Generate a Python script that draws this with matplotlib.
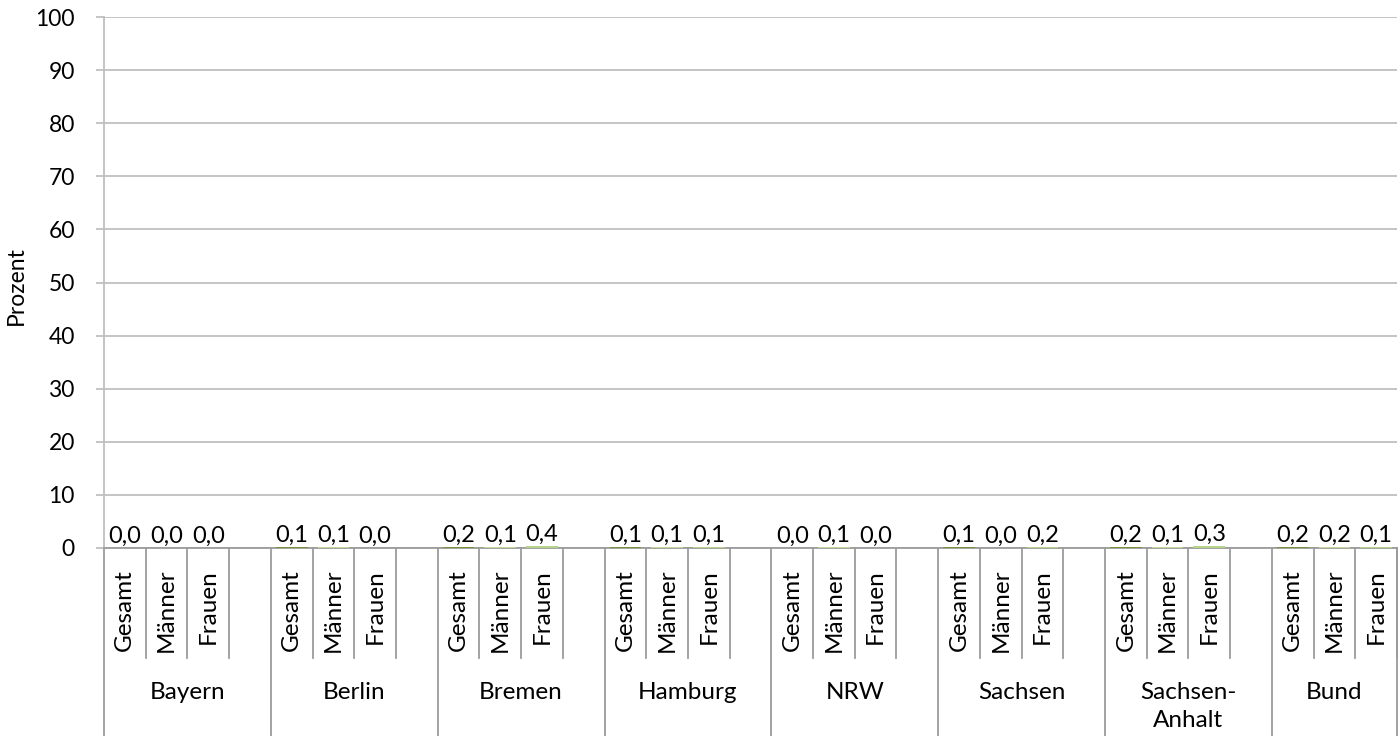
import matplotlib
matplotlib.use("Agg")
import matplotlib.pyplot as plt
import matplotlib.transforms as mtransforms
import numpy as np

plt.rcParams["font.family"] = ["Lato", "DejaVu Sans"]

# Data
regions = ["Bayern", "Berlin", "Bremen", "Hamburg", "NRW", "Sachsen", "Sachsen-\nAnhalt", "Bund"]
groups = ["Gesamt", "Männer", "Frauen"]
gesamt = [0.0, 0.1, 0.2, 0.1, 0.0, 0.1, 0.2, 0.2]
maenner = [0.0, 0.1, 0.1, 0.1, 0.1, 0.0, 0.1, 0.2]
frauen = [0.0, 0.0, 0.4, 0.1, 0.0, 0.2, 0.3, 0.1]
yticks = list(range(0, 101, 10))

colors = ["#77933C", "#C4D79B", "#B6D38C"]
series = [gesamt, maenner, frauen]

fig = plt.figure(figsize=(14, 7.36), dpi=100)
ax = fig.add_axes([104 / 1400, 1 - 548 / 736, (1397 - 104) / 1400, (548 - 17) / 736])

n = len(regions)
slots_per_group = 4
n_slots = slots_per_group * (n - 1) + 3
grid_c = "#BFBFBF"
sep_c = "#9C9C9C"

for s, (vals, col) in enumerate(zip(series, colors)):
    xs = [g * slots_per_group + s for g in range(n)]
    ax.bar(xs, vals, width=0.76, color=col, zorder=3)
    for x, v in zip(xs, vals):
        ax.annotate(f"{v:.1f}".replace(".", ","), (x, v), xytext=(0, 1),
                    textcoords="offset points", ha="center", va="bottom", fontsize=17)

ax.set_xlim(-0.5, n_slots - 0.5)
ax.set_ylim(0, 100)
ax.set_yticks(yticks)
ax.set_yticklabels([str(t) for t in yticks], fontsize=16.5)
ax.yaxis.grid(True, color=grid_c, linewidth=1.3, zorder=0)
ax.tick_params(axis="y", length=6, color=grid_c, width=1.3, pad=15)
ax.set_xticks([])
for sp in ["top", "right"]:
    ax.spines[sp].set_visible(False)
ax.spines["left"].set_color(grid_c)
ax.spines["left"].set_linewidth(1.3)
ax.spines["bottom"].set_color(sep_c)
ax.spines["bottom"].set_linewidth(1.3)
fig.text(16 / 1400, 1 - 286 / 736, "Prozent", rotation=90, ha="center", va="center",
         fontsize=16.5)

trans = mtransforms.blended_transform_factory(ax.transData, ax.transAxes)
ph = 548 - 17
def yfrac(py):
    return -(py - 548) / ph

# category axis separators and labels
for g in range(n):
    start = g * slots_per_group
    ax.plot([start - 0.5] * 2, [0, yfrac(736)], transform=trans, color=sep_c,
            lw=1.3, clip_on=False)
    for s in range(1, 4):
        ax.plot([start + s - 0.5] * 2, [0, yfrac(658)], transform=trans, color=sep_c,
                lw=1.3, clip_on=False)
    for s, lab in enumerate(groups):
        ax.text(start + s, yfrac(569), lab, rotation=90, ha="center", va="top",
                fontsize=17.5, transform=trans)
    end = min(start + slots_per_group, n_slots)
    ax.text((start - 0.5 + end - 0.5) / 2, yfrac(682), regions[g], ha="center", va="top",
            fontsize=17.5, transform=trans, linespacing=1.4)
ax.plot([n_slots - 0.5] * 2, [0, yfrac(736)], transform=trans, color=sep_c,
        lw=1.3, clip_on=False)

fig.savefig("out.png", dpi=100)
